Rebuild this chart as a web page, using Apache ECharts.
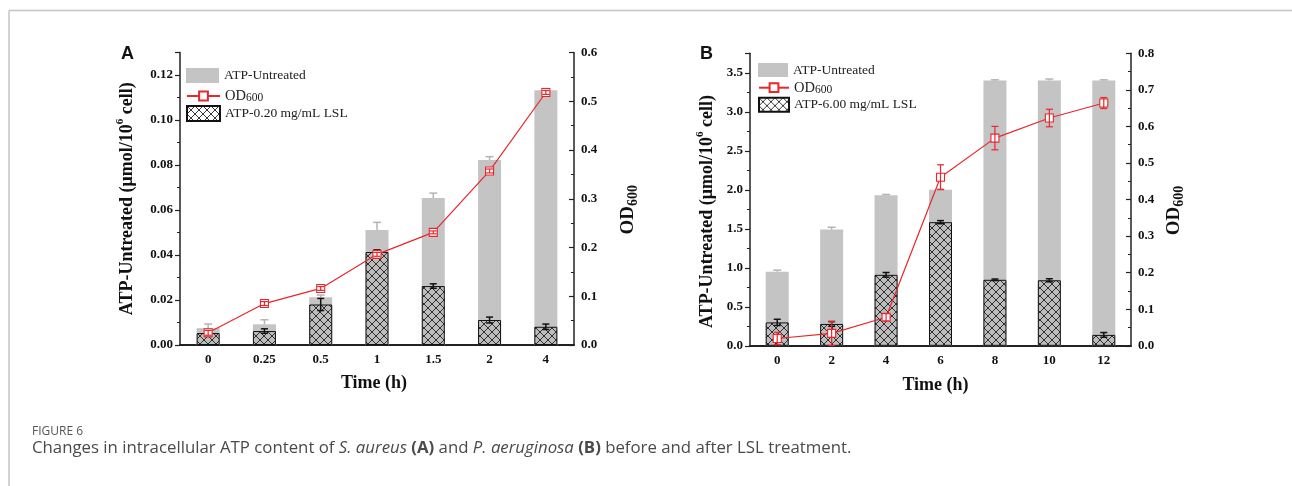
<!DOCTYPE html>
<html>
<head>
<meta charset="utf-8">
<script src="https://cdn.jsdelivr.net/npm/echarts@6/dist/echarts.min.js"></script>
<style>
html,body{margin:0;padding:0;background:#fff;}
#c{width:1292px;height:486px;}
</style>
</head>
<body>
<div id="c"></div>
<script>
// ---------- Data ----------
const catsA = ['0', '0.25', '0.5', '1', '1.5', '2', '4'];
const untreatedA = [0.0075, 0.0092, 0.0212, 0.0511, 0.0653, 0.0822, 0.1132];
const untreatedErrA = [0.0018, 0.0020, 0.0010, 0.0034, 0.0022, 0.0015, 0.0008];
const lslA = [0.0053, 0.0062, 0.0180, 0.0413, 0.0262, 0.0111, 0.0081];
const lslErrA = [0.0015, 0.0010, 0.0027, 0.0010, 0.0010, 0.0013, 0.0012];
const odA = [0.025, 0.085, 0.116, 0.186, 0.231, 0.357, 0.518];
const odErrA = [0.005, 0.004, 0.004, 0.004, 0.003, 0.004, 0.004];

const catsB = ['0', '2', '4', '6', '8', '10', '12'];
const untreatedB = [0.95, 1.49, 1.93, 2.00, 3.40, 3.40, 3.40];
const untreatedErrB = [0.02, 0.03, 0.01, 0.01, 0.01, 0.02, 0.01];
const lslB = [0.30, 0.28, 0.91, 1.585, 0.846, 0.84, 0.14];
const lslErrB = [0.04, 0.03, 0.03, 0.02, 0.01, 0.02, 0.03];
const odB = [0.020, 0.034, 0.078, 0.461, 0.568, 0.623, 0.664];
const odErrB = [0.017, 0.033, 0.010, 0.034, 0.032, 0.024, 0.015];

const leftTicksA = {min: 0, max: 0.13, interval: 0.02};
const rightTicksA = {min: 0, max: 0.6, interval: 0.1};
const leftTicksB = {min: 0, max: 3.75, interval: 0.5};
const rightTicksB = {min: 0, max: 0.8, interval: 0.1};

// ---------- Styles ----------
const SERIF = 'Liberation Serif';
const GRAY = '#c4c4c4';
const RED = '#e8262c';
const AXIS = '#222';

function makeHatch(bg) {
  const pc = document.createElement('canvas');
  pc.width = 8; pc.height = 8;
  const ctx = pc.getContext('2d');
  if (bg) { ctx.fillStyle = bg; ctx.fillRect(0, 0, 8, 8); }
  ctx.strokeStyle = '#151515';
  ctx.lineWidth = 0.85;
  ctx.beginPath();
  ctx.moveTo(0, 0); ctx.lineTo(8, 8);
  ctx.moveTo(0, 8); ctx.lineTo(8, 0);
  ctx.moveTo(-1, 1); ctx.lineTo(1, -1);
  ctx.moveTo(7, 9); ctx.lineTo(9, 7);
  ctx.moveTo(-1, 7); ctx.lineTo(1, 9);
  ctx.moveTo(7, -1); ctx.lineTo(9, 1);
  ctx.stroke();
  return {image: pc, repeat: 'repeat'};
}
const hatchBar = makeHatch('#bdbdbd');
const hatchLegend = makeHatch('#ffffff');

function fmtFactory(interval, digits) {
  return function (v) {
    const k = v / interval;
    return Math.abs(k - Math.round(k)) < 1e-6 ? v.toFixed(digits) : '';
  };
}

const nameRich = {
  t: {fontFamily: SERIF, fontWeight: 'bold', fontSize: 18, color: '#111', lineHeight: 24},
  s: {fontFamily: SERIF, fontWeight: 'bold', fontSize: 11, color: '#111', lineHeight: 11, verticalAlign: 'top'},
  o: {fontFamily: SERIF, fontWeight: 'bold', fontSize: 19, color: '#111', lineHeight: 24},
  u: {fontFamily: SERIF, fontWeight: 'bold', fontSize: 14, color: '#111', lineHeight: 13, verticalAlign: 'bottom'}
};

function yAxis(gi, ticks, digits, pos, name, gap, inside, pad) {
  return {
    type: 'value', gridIndex: gi, position: pos,
    min: ticks.min, max: ticks.max, interval: ticks.interval,
    name: name, nameLocation: 'middle', nameGap: gap, nameRotate: 90,
    nameTextStyle: {rich: nameRich, padding: pad},
    axisLine: {show: true, lineStyle: {color: AXIS, width: 1.5}},
    axisTick: {show: true, inside: inside, length: 5, lineStyle: {color: AXIS, width: 1.2}},
    minorTick: {show: true, splitNumber: 2, length: 3, lineStyle: {color: AXIS, width: 1}},
    axisLabel: {
      show: true, margin: 7, fontFamily: SERIF, fontWeight: 'bold', fontSize: 13, color: '#111',
      formatter: fmtFactory(ticks.interval, digits)
    },
    splitLine: {show: false}
  };
}

function xAxis(gi, cats, gap, pad) {
  return {
    type: 'category', gridIndex: gi, data: cats, boundaryGap: true,
    name: 'Time (h)', nameLocation: 'middle', nameGap: gap,
    nameTextStyle: {fontFamily: SERIF, fontWeight: 'bold', fontSize: 18, color: '#111', padding: pad},
    axisLine: {show: true, lineStyle: {color: AXIS, width: 2}},
    axisTick: {show: false},
    axisLabel: {margin: 8, fontFamily: SERIF, fontWeight: 'bold', fontSize: 13, color: '#111'}
  };
}

function errSeries(xi, yi, vals, errs, both, color, cap, lw, z) {
  return {
    type: 'custom', xAxisIndex: xi, yAxisIndex: yi, z: z, silent: true,
    data: vals.map((v, i) => [i, both ? v - errs[i] : v, v + errs[i]]),
    encode: {x: 0, y: [1, 2]},
    renderItem: function (params, api) {
      const i = api.value(0);
      const pHi = api.coord([i, api.value(2)]);
      const pLo = api.coord([i, api.value(1)]);
      const h = cap / 2;
      const st = {stroke: color, lineWidth: lw};
      const ch = [
        {type: 'line', shape: {x1: pHi[0], y1: pHi[1], x2: pLo[0], y2: pLo[1]}, style: st},
        {type: 'line', shape: {x1: pHi[0] - h, y1: pHi[1], x2: pHi[0] + h, y2: pHi[1]}, style: st}
      ];
      if (both) ch.push({type: 'line', shape: {x1: pLo[0] - h, y1: pLo[1], x2: pLo[0] + h, y2: pLo[1]}, style: st});
      return {type: 'group', children: ch};
    }
  };
}

function panelSeries(xi, yL, yR, untreated, uErr, lslName, lsl, lErr, od, odErr) {
  return [
    {name: 'ATP-Untreated', type: 'bar', xAxisIndex: xi, yAxisIndex: yL, data: untreated,
     barWidth: 23, barGap: '-100%', itemStyle: {color: GRAY}, z: 2},
    {name: lslName, type: 'bar', xAxisIndex: xi, yAxisIndex: yL, data: lsl,
     barWidth: 23, barGap: '-100%', itemStyle: {color: hatchBar, borderColor: '#111', borderWidth: 1}, z: 3},
    errSeries(xi, yL, untreated, uErr, false, '#b4b4b4', 8, 1.5, 4),
    errSeries(xi, yL, lsl, lErr, true, '#111', 7, 1.5, 5),
    {name: 'OD600', type: 'line', xAxisIndex: xi, yAxisIndex: yR, data: od,
     symbol: 'rect', symbolSize: 8, showAllSymbol: true,
     lineStyle: {color: RED, width: 1.2},
     itemStyle: {color: '#fff', borderColor: RED, borderWidth: 1.1}, z: 6},
    errSeries(xi, yR, od, odErr, true, RED, 7, 1.2, 7)
  ];
}

const legendRich = {
  n: {fontFamily: SERIF, fontSize: 13.5, color: '#222'},
  a: {fontFamily: SERIF, fontSize: 14.5, color: '#222', lineHeight: 16},
  b: {fontFamily: SERIF, fontSize: 11.5, color: '#222', lineHeight: 10, verticalAlign: 'bottom'}
};
function legendFmt(name) {
  return name === 'OD600' ? '{a|OD}{b|600}' : '{n|' + name + '}';
}
function legendRow(left, top, w, h, item) {
  return {left: left, top: top, padding: 0, orient: 'vertical', itemWidth: w, itemHeight: h,
    itemGap: 0, selectedMode: false, formatter: legendFmt, textStyle: {rich: legendRich}, data: [item]};
}

const chart = echarts.init(document.getElementById('c'), null, {renderer: 'canvas'});
chart.setOption({
  animation: false,
  backgroundColor: '#fff',
  grid: [
    {left: 180, top: 52.5, width: 394, height: 292.5},
    {left: 750, top: 53.3, width: 381, height: 292.5}
  ],
  xAxis: [xAxis(0, catsA, 29, [0, 6, 0, 0]), xAxis(1, catsB, 31, [0, 10, 0, 0])],
  yAxis: [
    yAxis(0, leftTicksA, 2, 'left', '{t|ATP-Untreated (μmol/10}{s|6}{t| cell)}', 41, false, [0, 0, 0, 0]),
    yAxis(0, rightTicksA, 1, 'right', '{o|OD}{u|600}', 42, true, [0, 22, 0, 0]),
    yAxis(1, leftTicksB, 1, 'left', '{t|ATP-Untreated (μmol/10}{s|6}{t| cell)}', 31, false, [0, 24, 0, 0]),
    yAxis(1, rightTicksB, 1, 'right', '{o|OD}{u|600}', 31, true, [0, 22, 0, 0])
  ],
  legend: [
    legendRow(186, 68, 33, 15, {name: 'ATP-Untreated', icon: 'rect'}),
    legendRow(186, 88.5, 33, 11, 'OD600'),
    legendRow(186, 105, 33, 15, {name: 'ATP-0.20 mg/mL LSL', icon: 'rect', itemStyle: {color: hatchLegend}}),
    legendRow(758, 63, 30, 14, {name: 'ATP-Untreated', icon: 'rect'}),
    legendRow(758, 80.2, 30, 11, 'OD600'),
    legendRow(758, 96.7, 30, 14, {name: 'ATP-6.00 mg/mL LSL', icon: 'rect', itemStyle: {color: hatchLegend}})
  ],
  series: [].concat(
    panelSeries(0, 0, 1, untreatedA, untreatedErrA, 'ATP-0.20 mg/mL LSL', lslA, lslErrA, odA, odErrA),
    panelSeries(1, 2, 3, untreatedB, untreatedErrB, 'ATP-6.00 mg/mL LSL', lslB, lslErrB, odB, odErrB)
  ),
  graphic: [
    {type: 'line', shape: {x1: 9, y1: 10.5, x2: 1292, y2: 10.5}, style: {stroke: '#c4c4c4', lineWidth: 1.5}, silent: true},
    {type: 'line', shape: {x1: 9, y1: 10.5, x2: 9, y2: 486}, style: {stroke: '#c4c4c4', lineWidth: 1.5}, silent: true},
    {type: 'text', left: 121, top: 45, style: {text: 'A', font: 'bold 18px "Liberation Sans"', fill: '#111'}},
    {type: 'text', left: 700, top: 45, style: {text: 'B', font: 'bold 18px "Liberation Sans"', fill: '#111'}},
    {type: 'text', left: 32, top: 426, style: {text: 'FIGURE 6', font: '12px "Open Sans"', fill: '#555'}},
    {type: 'text', left: 32, top: 440, style: {
      text: '{n|Changes in intracellular ATP content of }{i|S. aureus}{n| }{b|(A)}{n| and }{i|P. aeruginosa}{n| }{b|(B)}{n| before and after LSL treatment.}',
      rich: {
        n: {fontFamily: 'Open Sans', fontSize: 16.8, fill: '#4a4a4a'},
        i: {fontFamily: 'Open Sans', fontSize: 16.8, fontStyle: 'italic', fill: '#4a4a4a'},
        b: {fontFamily: 'Open Sans', fontSize: 16.8, fontWeight: 'bold', fill: '#4a4a4a'}
      }
    }}
  ]
});
</script>
</body>
</html>
